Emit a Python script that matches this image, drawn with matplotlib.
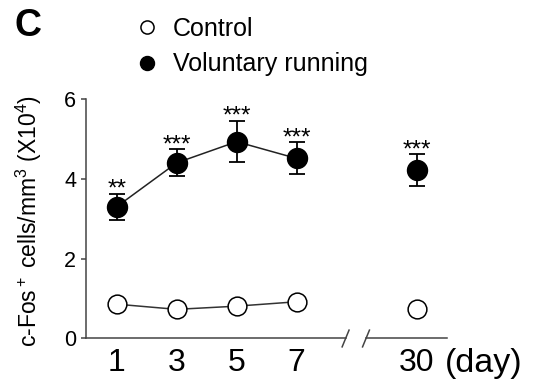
import matplotlib.pyplot as plt

plt.rcParams['font.family'] = ['Liberation Sans', 'DejaVu Sans']
plt.rcParams['mathtext.fontset'] = 'custom'
plt.rcParams['mathtext.rm'] = 'Liberation Sans'
plt.rcParams['mathtext.it'] = 'Liberation Sans'
plt.rcParams['mathtext.default'] = 'regular'

# values (c-Fos+ cells/mm3, x10^4)
days = [1, 3, 5, 7, 30]
control = [0.86, 0.73, 0.81, 0.92, 0.75]
running = [3.30, 4.40, 4.93, 4.51, 4.22]
running_err = [0.33, 0.34, 0.52, 0.40, 0.39]
stars = ['**', '***', '***', '***', '***']


def day_pos(d):
    # day 30 is pulled in behind the axis break
    return d if d <= 7 else d - 19


pos = [day_pos(d) for d in days]
axis_col = '#444444'

fig = plt.figure(figsize=(5.39, 3.85), dpi=100)
ax = fig.add_axes([0.1596, 0.1208, 0.6692, 0.6221])

# connecting lines only for days 1-7
ax.plot(pos[:4], control[:4], color='#333333', lw=1.1, zorder=2)
ax.plot(pos[:4], running[:4], color='#222222', lw=1.1, zorder=2)

ax.errorbar(pos, running, yerr=running_err, fmt='none', ecolor='black',
            elinewidth=1.3, capsize=6, capthick=1.3, zorder=2)
h_ctrl, = ax.plot(pos, control, ls='none', marker='o', ms=13.5, mfc='white',
                  mec='black', mew=1.1, zorder=3, label='Control')
h_run, = ax.plot(pos, running, ls='none', marker='o', ms=14.4, mfc='black',
                 mec='black', zorder=3, label='Voluntary running')

for p, v, e, s in zip(pos, running, running_err, stars):
    ax.annotate(s, xy=(p, v + e), xytext=(0, -1.5), textcoords='offset points',
                ha='center', va='baseline', fontsize=17.5)

ax.set_xlim(-0.02, 12.0)
ax.set_ylim(0, 6)
ax.set_yticks([0, 2, 4, 6])
ax.set_xticks(pos)
ax.set_xticklabels([str(d) for d in days])
ax.tick_params(axis='y', labelsize=15.5, length=3.6, width=1.1, color=axis_col, pad=3.5)
ax.tick_params(axis='x', labelsize=23, length=0, pad=7)

for side in ['top', 'right', 'bottom']:
    ax.spines[side].set_visible(False)
ax.spines['left'].set_color(axis_col)
ax.spines['left'].set_linewidth(1.1)

# broken x axis
trans = ax.get_xaxis_transform()
ax.plot([-0.02, 8.63], [0, 0], transform=trans, clip_on=False, color=axis_col, lw=1.1)
ax.plot([9.31, 12.0], [0, 0], transform=trans, clip_on=False, color=axis_col, lw=1.1)
for bx in [8.63, 9.31]:
    ax.plot([bx - 0.115, bx + 0.115], [-0.035, 0.035], transform=trans,
            clip_on=False, color=axis_col, lw=1.1)

ax.annotate('(day)', xy=(pos[-1], 0), xycoords=trans, xytext=(20.4, -6.5),
            textcoords='offset points', ha='left', va='top', fontsize=24.5)

ax.set_ylabel(r'c-Fos$^+$ cells/mm$^3$ (X10$^4$)', fontsize=16.5)
ax.yaxis.set_label_coords(-0.116, 0.489)

fig.text(15 / 539, 1 - 8 / 385, 'C', fontsize=27, fontweight='bold', va='top', ha='left')

fig.legend([h_ctrl, h_run], ['Control', 'Voluntary running'], loc='upper left',
           bbox_to_anchor=(137 / 539, 1 - 17 / 385), frameon=False, fontsize=18,
           handlelength=0.8, handletextpad=0.64, labelspacing=0.46, borderpad=0,
           borderaxespad=0, markerscale=0.7)

fig.savefig('out.png', dpi=100)
